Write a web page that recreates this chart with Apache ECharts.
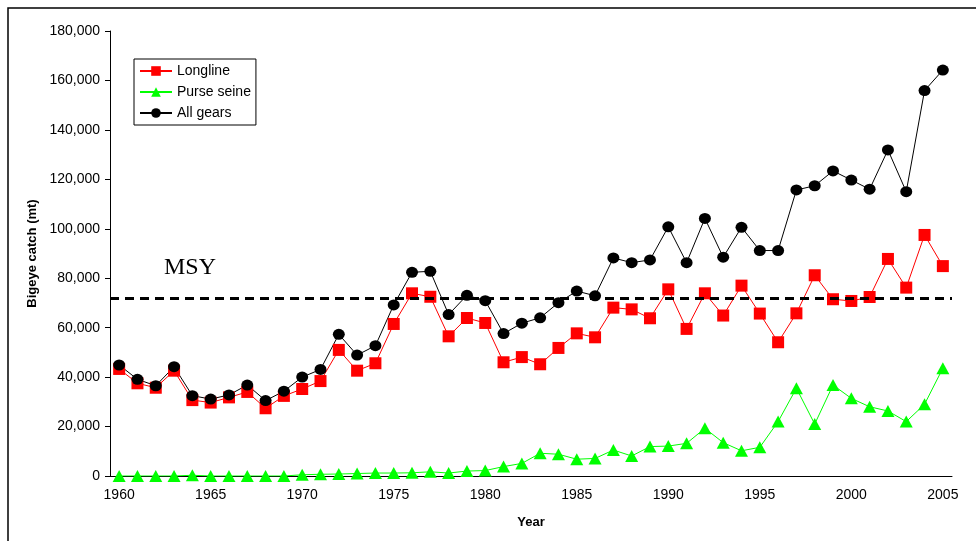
<!DOCTYPE html>
<html>
<head>
<meta charset="utf-8">
<script src="https://cdn.jsdelivr.net/npm/echarts@6/dist/echarts.min.js"></script>
<style>
  html, body { margin: 0; padding: 0; background: #fff; }
  #main { width: 976px; height: 541px; }
</style>
</head>
<body>
<div id="main"></div>
<script>
// years 1960-2005
var years = [];
for (var y = 1960; y <= 2005; y++) years.push(String(y));

var longline = [43300, 37500, 35700, 42600, 30700, 29700, 31800, 34000, 27400, 32400,
  35200, 38400, 51000, 42600, 45600, 61500, 73900, 72500, 56500, 63900,
  61900, 46000, 48100, 45200, 51800, 57700, 56100, 68100, 67400, 63800,
  75500, 59500, 73900, 64900, 77000, 65700, 54100, 65800, 81200, 71500,
  70800, 72400, 87800, 76200, 97500, 84900];

var purseSeine = [0, 0, 0, 0, 300, 0, 0, 0, 0, 0,
  500, 700, 800, 1000, 1200, 1200, 1300, 1700, 1200, 2000,
  2200, 3800, 5100, 9200, 8800, 6800, 7100, 10500, 8100, 11900,
  12100, 13200, 19300, 13500, 10200, 11600, 22000, 35500, 21000, 36800,
  31400, 28000, 26300, 22000, 29000, 43600];

var allGears = [44900, 39100, 36500, 44200, 32500, 31100, 32800, 36800, 30500, 34300,
  40000, 43100, 57300, 48900, 52700, 69200, 82400, 82800, 65300, 73100,
  70900, 57600, 61800, 64000, 70100, 74800, 72900, 88200, 86300, 87400,
  100800, 86300, 104200, 88500, 100600, 91200, 91200, 115700, 117400, 123400,
  119700, 116000, 131900, 115000, 155900, 164200];

var msy = 72000;

var font = 'Arial, "Liberation Sans", sans-serif';
var chart = echarts.init(document.getElementById('main'));

chart.setOption({
  animation: false,
  backgroundColor: '#fff',
  grid: { left: 110, top: 31, right: 24, bottom: 65, containLabel: false },
  graphic: [
    { type: 'rect', shape: { x: 8, y: 8, width: 1000, height: 600 },
      style: { fill: 'none', stroke: '#000', lineWidth: 1.5 }, silent: true, z: -1 },
    { type: 'text', left: 164, top: 256,
      style: { text: 'MSY', font: '24px "Liberation Serif", "Times New Roman", serif', fill: '#000' } }
  ],
  legend: {
    orient: 'vertical',
    left: 134,
    top: 59,
    padding: [4, 5, 4, 5],
    itemWidth: 32,
    itemHeight: 12,
    itemGap: 5,
    borderColor: '#000',
    borderWidth: 1,
    textStyle: { fontFamily: font, fontSize: 14, color: '#000', lineHeight: 16 },
    data: ['Longline', 'Purse seine', 'All gears']
  },
  xAxis: {
    type: 'category',
    data: years,
    boundaryGap: true,
    name: 'Year',
    nameLocation: 'middle',
    nameGap: 40,
    nameTextStyle: { fontFamily: font, fontSize: 13, fontWeight: 'bold', color: '#000' },
    axisLine: { lineStyle: { color: '#000', width: 1 } },
    axisTick: { interval: 0, alignWithLabel: false, length: 4, lineStyle: { color: '#000' } },
    axisLabel: { interval: 4, fontFamily: font, fontSize: 14, color: '#000', margin: 12 },
    splitLine: { show: false }
  },
  yAxis: {
    type: 'value',
    min: 0,
    max: 180000,
    interval: 20000,
    name: 'Bigeye catch (mt)',
    nameLocation: 'middle',
    nameRotate: 90,
    nameGap: 71,
    nameTextStyle: { fontFamily: font, fontSize: 13, fontWeight: 'bold', color: '#000' },
    axisLine: { show: true, lineStyle: { color: '#000', width: 1 } },
    axisTick: { show: true, length: 5, lineStyle: { color: '#000' } },
    axisLabel: {
      fontFamily: font, fontSize: 14, color: '#000', margin: 10,
      formatter: function (v) { return v.toLocaleString('en-US'); }
    },
    splitLine: { show: false }
  },
  series: [
    {
      name: 'Longline',
      type: 'line',
      data: longline,
      symbol: 'rect',
      symbolSize: 12,
      itemStyle: { color: '#ff0000' },
      lineStyle: { color: '#ff0000', width: 1 },
      markLine: {
        silent: true,
        symbol: 'none',
        label: { show: false },
        lineStyle: { color: '#000', width: 3, type: [9, 6] },
        data: [{ yAxis: msy }]
      }
    },
    {
      name: 'Purse seine',
      type: 'line',
      data: purseSeine,
      symbol: 'triangle',
      symbolSize: [13, 12],
      itemStyle: { color: '#00ff00' },
      lineStyle: { color: '#00ff00', width: 1 }
    },
    {
      name: 'All gears',
      type: 'line',
      data: allGears,
      symbol: 'circle',
      symbolSize: [12, 11],
      itemStyle: { color: '#000' },
      lineStyle: { color: '#000', width: 1 }
    }
  ]
});
</script>
</body>
</html>
